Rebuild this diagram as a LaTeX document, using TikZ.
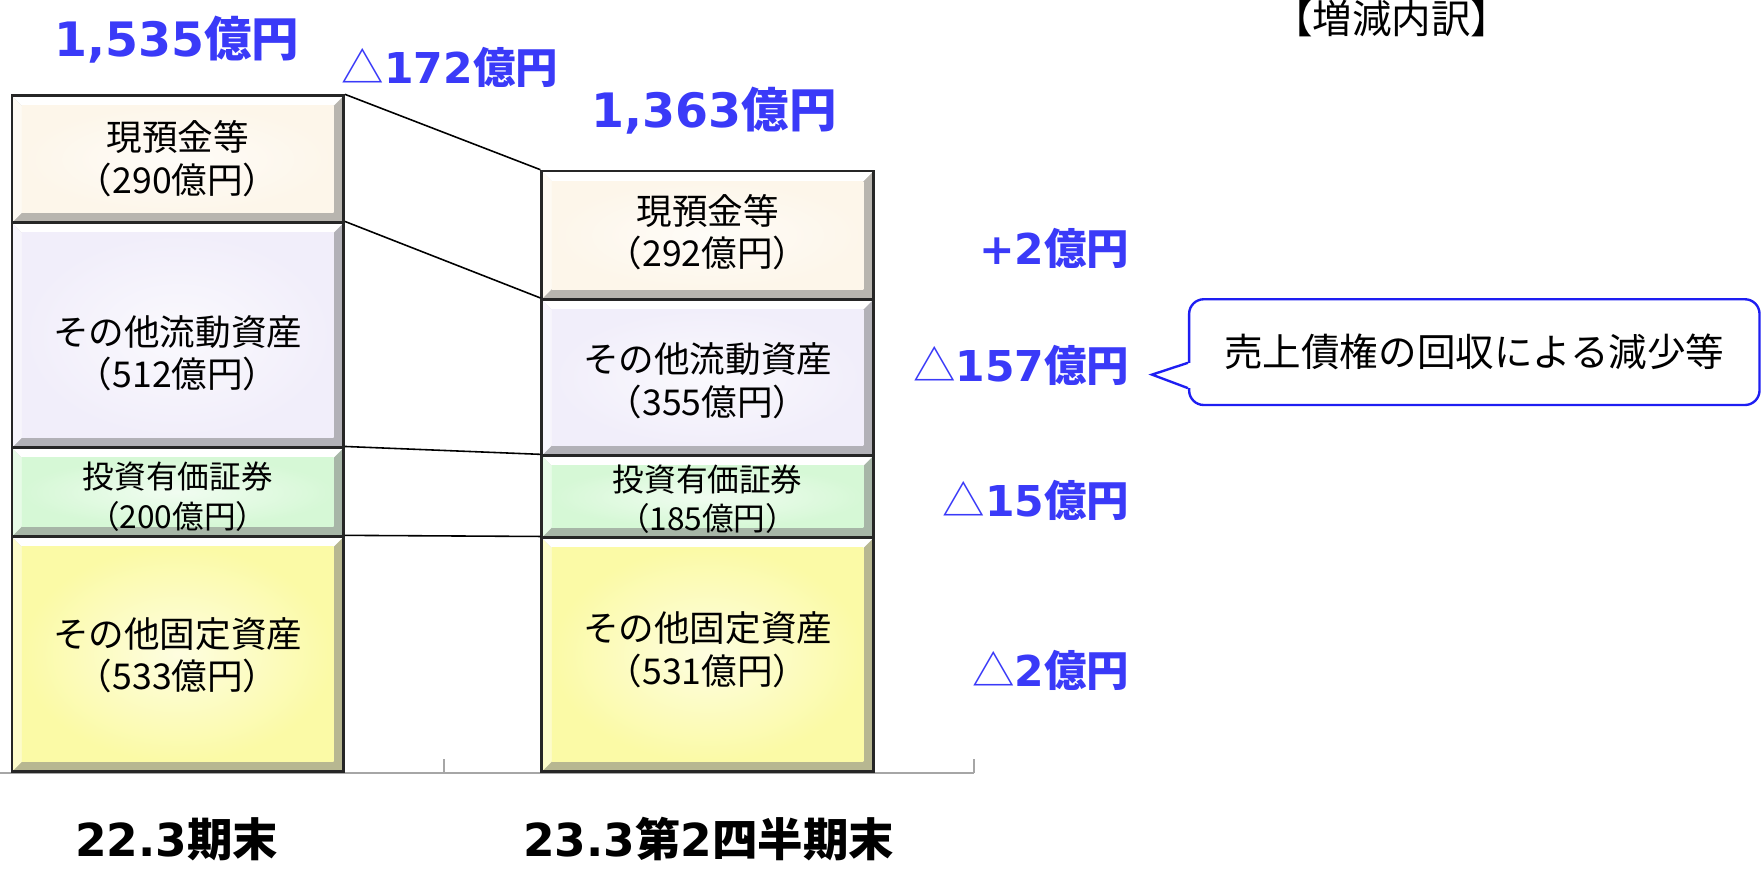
\documentclass[tikz,border=0pt]{standalone}
\usepackage{fontspec}
\setmainfont{Noto Sans CJK JP}
\newfontfamily\verdfont{DejaVu Sans}
\usetikzlibrary{positioning, calc}
\definecolor{cashfill}{HTML}{FDF6EA}
\definecolor{curfill}{HTML}{F1EEFA}
\definecolor{secfill}{HTML}{D6F8D6}
\definecolor{fixfill}{HTML}{FBFAA6}
\definecolor{deltablue}{HTML}{3A3AF8}
\definecolor{noteblue}{HTML}{1E1EF2}
\definecolor{axisgray}{HTML}{A6A6A6}
\newcommand{\vnum}[1]{{\verdfont\bfseries #1}}

\begin{document}
\begin{tikzpicture}[
  segbox/.style={draw=black!85, line width=1.3pt, inner sep=0pt, minimum width=5.9cm,
    path picture={
      \coordinate (p-sw) at (path picture bounding box.south west);
      \coordinate (p-ne) at (path picture bounding box.north east);
      \coordinate (p-nw) at (path picture bounding box.north west);
      \fill[#1!45!gray] (p-sw) rectangle (p-ne);
      \fill[white!40!#1] (p-sw) -- (p-nw) -- ++(0.18,-0.18) -- ($(p-sw)+(0.18,0.18)$) -- cycle;
      \fill[white] (p-nw) -- (p-ne) -- ++(-0.18,-0.18) -- ($(p-nw)+(0.18,-0.18)$) -- cycle;
      \shade[inner color=white!65!#1, outer color=#1] ($(p-sw)+(0.18,0.18)$) rectangle ($(p-ne)+(-0.18,-0.18)$);
    }},
  boxtext/.style={align=center, font=\fontsize{18}{21.5}\selectfont},
  smalltext/.style={align=center, font=\fontsize{16}{19.8}\selectfont},
  total/.style={text=deltablue, font=\fontsize{24}{24}\selectfont\bfseries},
  delta/.style={text=deltablue, font=\fontsize{21.5}{21.5}\selectfont\bfseries},
  period/.style={inner sep=0pt, font=\fontsize{23}{23}\selectfont\bfseries},
  link/.style={black, line width=0.8pt},
  notebox/.style={draw=noteblue, line width=1.2pt, rounded corners=0.26cm, fill=white,
    minimum width=10.14cm, minimum height=1.88cm, font=\fontsize{19.5}{19.5}\selectfont}
]
  \useasboundingbox (0,0) rectangle (31.36,15.46);

  % Axis with ticks
  \draw[axisgray, line width=1pt] (0,1.72) -- (17.32,1.72);
  \draw[axisgray, line width=1pt] (7.90,1.72) -- (7.90,1.96);
  \draw[axisgray, line width=1pt] (17.32,1.72) -- (17.32,1.96);

  % 22.3 bar
  \node[segbox=cashfill, minimum height=2.26cm] (cashA) at (3.16,12.63) {};
  \node[segbox=curfill, minimum height=4.00cm] (curA) at (3.16,9.50) {};
  \node[segbox=secfill, minimum height=1.58cm] (secA) at (3.16,6.71) {};
  \node[segbox=fixfill, minimum height=4.18cm] (fixA) at (3.16,3.83) {};
  \node[boxtext] (cashA-t) at (3.16,12.64) {現預金等\\（290億円）};
  \node[boxtext] (curA-t) at (3.16,9.18) {その他流動資産\\（512億円）};
  \node[smalltext] (secA-t) at (3.16,6.63) {投資有価証券\\（200億円）};
  \node[boxtext] (fixA-t) at (3.16,3.81) {その他固定資産\\（533億円）};

  % 23.3 Q2 bar
  \node[segbox=cashfill, minimum height=2.28cm] (cashB) at (12.58,11.28) {};
  \node[segbox=curfill, minimum height=2.78cm] (curB) at (12.58,8.75) {};
  \node[segbox=secfill, minimum height=1.46cm] (secB) at (12.58,6.63) {};
  \node[segbox=fixfill, minimum height=4.16cm] (fixB) at (12.58,3.82) {};
  \node[boxtext] (cashB-t) at (12.58,11.33) {現預金等\\（292億円）};
  \node[boxtext] (curB-t) at (12.58,8.69) {その他流動資産\\（355億円）};
  \node[smalltext] (secB-t) at (12.58,6.59) {投資有価証券\\（185億円）};
  \node[boxtext] (fixB-t) at (12.58,3.91) {その他固定資産\\（531億円）};

  % Links between the bars
  \draw[link] (cashA.north east) -- (cashB.north west);
  \draw[link] (curA.north east) -- (curB.north west);
  \draw[link] (secA.north east) -- (secB.north west);
  \draw[link] (fixA.north east) -- (fixB.north west);

  % Totals and change
  \node[total] (sumA) at (3.14,14.76) {\vnum{1,535}億円};
  \node[total] (sumB) at (12.70,13.50) {\vnum{1,363}億円};
  \node[delta] (dsum) at (8.00,14.26) {{\mdseries △}\vnum{172}億円};

  % Breakdown
  \node[delta, anchor=east] (dcash) at (20.20,11.04) {\vnum{+2}億円};
  \node[delta, anchor=east] (dcur) at (20.20,8.96) {{\mdseries △}\vnum{157}億円};
  \node[delta, anchor=east] (dsec) at (20.20,6.56) {{\mdseries △}\vnum{15}億円};
  \node[delta, anchor=east] (dfix) at (20.20,3.54) {{\mdseries △}\vnum{2}億円};
  \node[font=\fontsize{20}{20}\selectfont\mdseries, inner sep=0pt] (head) at (24.74,15.13) {【増減内訳】};

  % Callout
  \node[notebox] (note) at (26.21,9.20) {売上債権の回収による減少等};
  \coordinate (tip) at ($(dcur.east)+(0.28,-0.16)$);
  \fill[white] ($(note.west)+(-0.05,-0.20)$) rectangle ($(note.west)+(0.06,-0.63)$);
  \draw[noteblue, line width=1.2pt, line join=miter] ($(note.west)+(0,-0.19)$) -- (tip) -- ($(note.west)+(0,-0.64)$);

  % Period labels
  \node[period] (perA) at (3.14,0.54) {\vnum{22.3}期末};
  \node[period] (perB) at (12.60,0.54) {\vnum{23.3}第\vnum{2}四半期末};
\end{tikzpicture}
\end{document}
